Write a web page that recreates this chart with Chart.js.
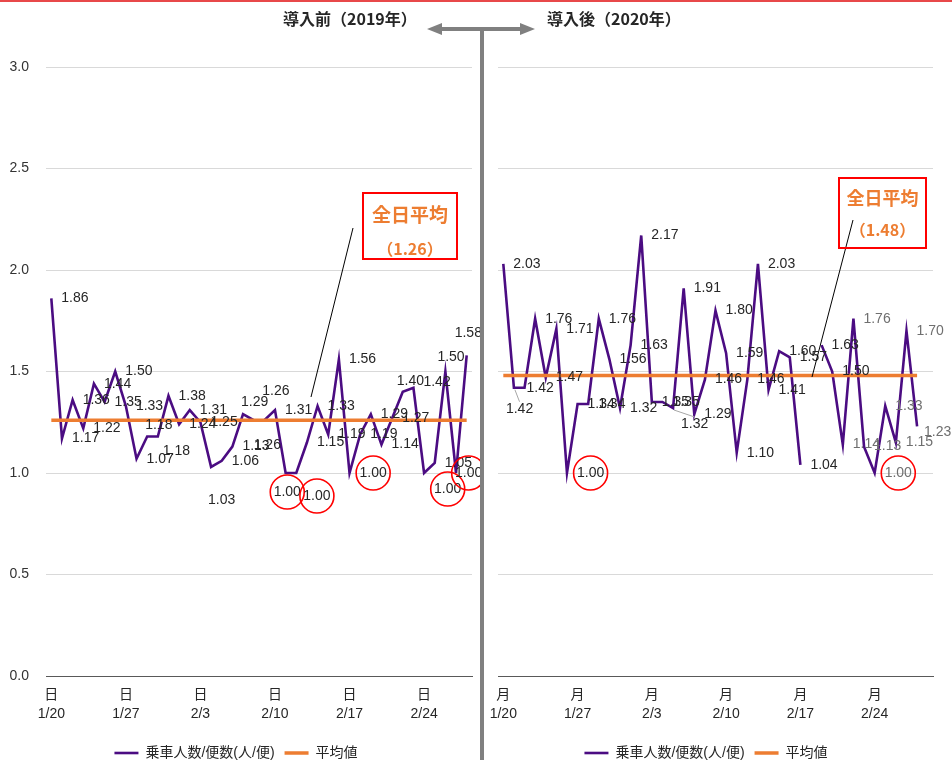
<!DOCTYPE html>
<html><head><meta charset="utf-8">
<script src="https://cdn.jsdelivr.net/npm/chart.js@4.4.1/dist/chart.umd.min.js"></script>
<style>
html,body{margin:0;padding:0;background:#fff;width:952px;height:760px;overflow:hidden;position:relative;}
#c1{position:absolute;left:0;top:0;}
#c2{position:absolute;left:479px;top:0;}
#deco{position:absolute;left:0;top:0;}
.title{position:absolute;top:8px;font-weight:bold;font-size:16px;font-family:'Noto Sans CJK JP',sans-serif;color:#262626;white-space:nowrap;line-height:20px;}
.box{position:absolute;border:2px solid #ff0000;box-sizing:border-box;color:#ED7D31;font-weight:bold;font-family:'Noto Sans CJK JP',sans-serif;}
.box span{position:absolute;left:0;right:0;text-align:center;white-space:nowrap;}
</style></head>
<body>
<canvas id="c1" width="480" height="770"></canvas>
<canvas id="c2" width="473" height="770"></canvas>
<svg id="deco" width="952" height="760" xmlns="http://www.w3.org/2000/svg">
  <rect x="0" y="0" width="952" height="2" fill="#e8484a"/>
  <line x1="482" y1="29" x2="482" y2="760" stroke="#808080" stroke-width="4"/>
  <line x1="438" y1="29" x2="524" y2="29" stroke="#808080" stroke-width="4"/>
  <polygon points="427,29 442,23 442,35" fill="#808080"/>
  <polygon points="535,29 520,23 520,35" fill="#808080"/>
  <line x1="353" y1="228" x2="311" y2="397" stroke="#000" stroke-width="1"/>
  <line x1="853" y1="220" x2="812" y2="377" stroke="#000" stroke-width="1"/>
</svg>
<div class="title" style="left:283px;">導入前（2019年）</div>
<div class="title" style="left:547px;">導入後（2020年）</div>
<div class="box" style="left:362px;top:192px;width:96px;height:68px;">
  <span style="top:7px;font-size:19px;line-height:26px;">全日平均</span>
  <span style="top:42px;font-size:16px;line-height:24px;">（1.26）</span>
</div>
<div class="box" style="left:838px;top:177px;width:89px;height:72px;">
  <span style="top:5px;font-size:18px;line-height:26px;">全日平均</span>
  <span style="top:38px;font-size:16px;line-height:24px;">（1.48）</span>
</div>
<script>
// ---- data ----
const dates2019 = ['1/20','1/21','1/22','1/23','1/24','1/25','1/26','1/27','1/28','1/29','1/30','1/31',
  '2/1','2/2','2/3','2/4','2/5','2/6','2/7','2/8','2/9','2/10','2/11','2/12','2/13','2/14','2/15','2/16',
  '2/17','2/18','2/19','2/20','2/21','2/22','2/23','2/24','2/25','2/26','2/27','2/28'];
const dates2020 = ['1/20','1/21','1/22','1/23','1/24','1/25','1/26','1/27','1/28','1/29','1/30','1/31',
  '2/1','2/2','2/3','2/4','2/5','2/6','2/7','2/8','2/9','2/10','2/11','2/12','2/13','2/14','2/15','2/16',
  '2/17','2/18','2/19','2/20','2/21','2/22','2/23','2/24','2/25','2/26','2/27','2/28','2/29'];
const tickDates = ['1/20','1/27','2/3','2/10','2/17','2/24'];
const weekday2019 = '日';
const weekday2020 = '月';
const ridership2019 = [1.86,1.17,1.36,1.22,1.44,1.35,1.50,1.33,1.07,1.18,
  1.18,1.38,1.24,1.31,1.25,1.03,1.06,1.13,1.29,1.26,
  1.26,1.31,1.00,1.00,1.15,1.33,1.19,1.56,1.00,1.19,
  1.29,1.14,1.27,1.40,1.42,1.00,1.05,1.50,1.00,1.58];
const ridership2020 = [2.03,1.42,1.42,1.76,1.47,1.71,1.00,1.34,1.34,1.76,
  1.56,1.32,1.63,2.17,1.35,1.35,1.32,1.91,1.29,1.46,
  1.80,1.59,1.10,1.46,2.03,1.41,1.60,1.57,1.04,null,
  1.63,1.50,1.14,1.76,1.13,1.00,1.33,1.15,1.70,1.23,null];
const mean2019 = 1.26;
const mean2020 = 1.48;
const yTicks = [0,0.5,1.0,1.5,2.0,2.5,3.0];
const seriesName = '乗車人数/便数(人/便)';
const meanName = '平均値';

// ---- chart ----
const FONT = "'Liberation Sans','Noto Sans CJK JP',sans-serif";
Chart.defaults.font.family = FONT;
Chart.defaults.color = '#333';

const labelPlugin = {
  id: 'valueLabels',
  afterDatasetsDraw(chart, args, opts) {
    const ctx = chart.ctx;
    const meta = chart.getDatasetMeta(0);
    const data = chart.data.datasets[0].data;
    ctx.save();
    ctx.font = '14px ' + FONT;
    ctx.textBaseline = 'middle';
    ctx.textAlign = 'left';
    meta.data.forEach((pt, i) => {
      const v = data[i];
      if (v === null || v === undefined) return;
      const nd = (opts.nudge && opts.nudge[i]) || [0, 0];
      const tx = pt.x + 10 + nd[0], ty = pt.y + nd[1];
      const text = v.toFixed(2);
      const w = ctx.measureText(text).width;
      if (opts.leader && opts.leader.indexOf(i) >= 0) {
        ctx.strokeStyle = '#a6a6a6'; ctx.lineWidth = 1;
        ctx.beginPath();
        ctx.moveTo(pt.x + 1, pt.y + 2);
        ctx.lineTo(tx + w / 2, ty - 7);
        ctx.stroke();
      }
      ctx.fillStyle = (opts.greyFrom !== undefined && i >= opts.greyFrom) ? '#6f6f6f' : '#262626';
      ctx.fillText(text, tx, ty);
      if (v === 1) {
        ctx.strokeStyle = '#ff0000'; ctx.lineWidth = 1.6;
        ctx.beginPath();
        ctx.arc(tx + w / 2, ty, 17, 0, Math.PI * 2);
        ctx.stroke();
      }
    });
    ctx.restore();
  }
};

function makeChart(id, dates, values, meanVal, weekday, opts) {
  const lastIdx = values.reduce((a, v, i) => (v !== null ? i : a), 0);
  return new Chart(document.getElementById(id), {
    type: 'line',
    data: {
      labels: dates,
      datasets: [
        { label: seriesName, data: values, borderColor: '#4b0c82', backgroundColor: '#4b0c82',
          borderWidth: 2.6, pointRadius: 0, tension: 0, spanGaps: false, order: 2 },
        { label: meanName, data: [{x: dates[0], y: meanVal}, {x: dates[lastIdx], y: meanVal}],
          borderColor: '#ED7D31', backgroundColor: '#ED7D31', borderWidth: 3.5, pointRadius: 0, order: 1 }
      ]
    },
    options: {
      responsive: false, animation: false, devicePixelRatio: 1,
      layout: { padding: { top: 67, right: opts.padRight, left: opts.padLeft, bottom: 0 } },
      plugins: {
        tooltip: { enabled: false },
        legend: {
          position: 'bottom',
          labels: { usePointStyle: true, pointStyle: 'line', pointStyleWidth: 24, padding: 10,
            color: '#262626', font: { size: 14, family: FONT },
            sort: (a, b) => a.datasetIndex - b.datasetIndex }
        },
        valueLabels: opts.labels
      },
      scales: {
        x: {
          type: 'category', offset: true,
          grid: { display: false, drawTicks: false },
          border: { display: true, color: '#595959', width: 1 },
          ticks: {
            autoSkip: false, maxRotation: 0, minRotation: 0, padding: 10, color: '#262626',
            font: { size: 14, lineHeight: 1.35 },
            callback: function (val) {
              const l = this.getLabelForValue(val);
              return tickDates.indexOf(l) >= 0 ? [weekday, l] : '';
            }
          },
          afterFit: s => { s.height = 60; }
        },
        y: {
          min: 0, max: 3,
          afterBuildTicks: s => { s.ticks = yTicks.map(v => ({ value: v })); },
          grid: { color: '#d9d9d9', drawTicks: false, lineWidth: 1 },
          border: { display: false },
          ticks: { display: opts.showY, padding: 17, color: '#333', font: { size: 14 },
            callback: v => v.toFixed(1) },
          afterFit: s => { s.width = opts.yWidth; }
        }
      }
    },
    plugins: [labelPlugin]
  });
}

makeChart('c1', dates2019, ridership2019, mean2019, weekday2019, {
  padRight: 8, padLeft: 0, showY: true, yWidth: 46,
  labels: { nudge: { 9: [-12, -11], 10: [-5, 15], 15: [-13, 33], 18: [-12, -12], 19: [-10, 25],
    20: [-12, -29], 22: [-22, 19], 23: [-3, 23], 33: [-16, -11], 34: [0, -6], 35: [0, 16],
    37: [-18, -14], 38: [-11, 0], 39: [-22, -22] } }
});
makeChart('c2', dates2020, ridership2020, mean2020, weekday2020, {
  padRight: 19, padLeft: 0, showY: false, yWidth: 19,
  labels: { greyFrom: 32, leader: [1, 16], nudge: { 1: [-18, 21], 2: [-8, 0], 16: [-2, 16], 39: [-3, 6] } }
});
</script>
</body></html>
